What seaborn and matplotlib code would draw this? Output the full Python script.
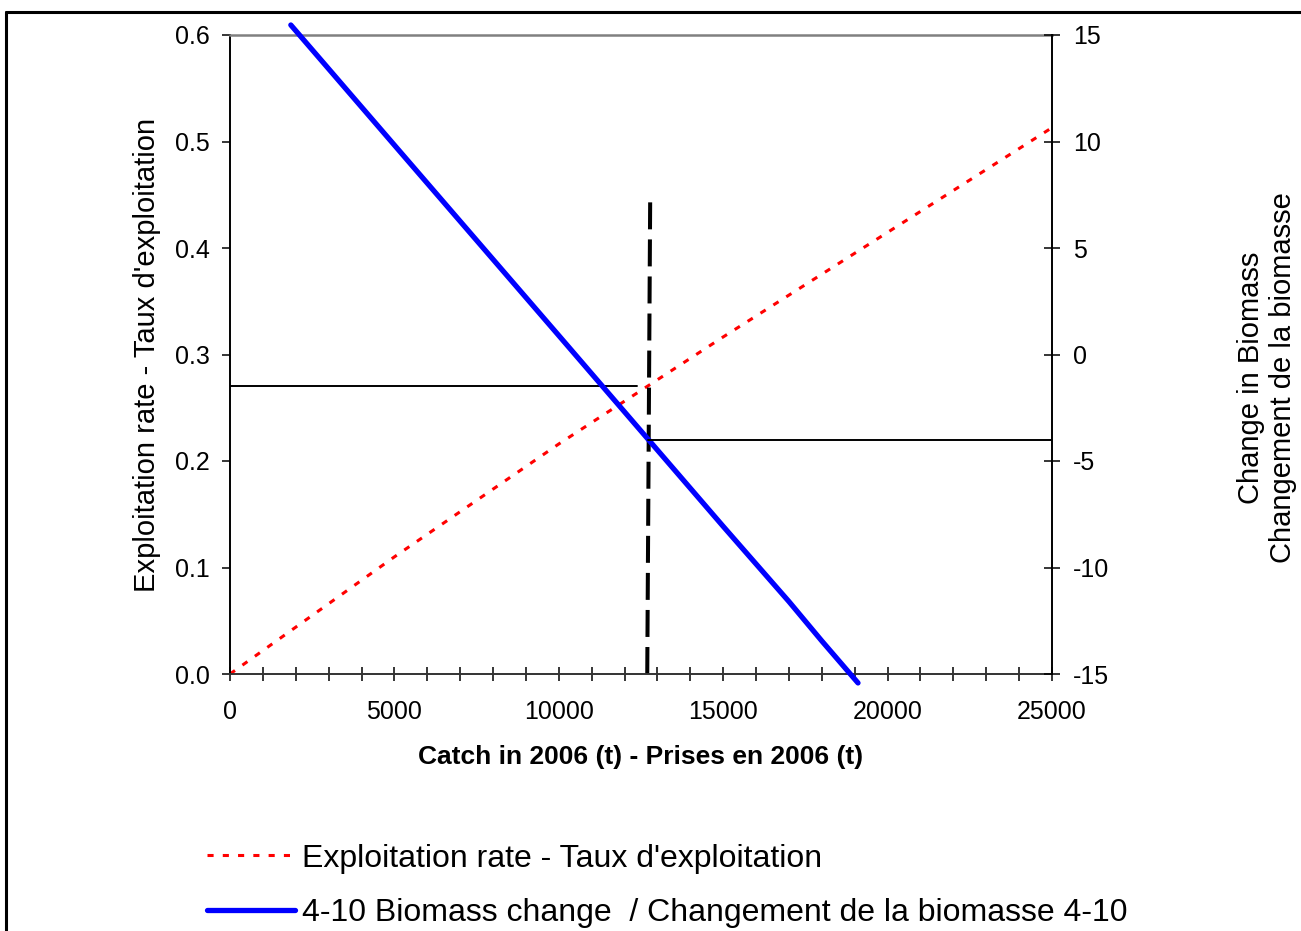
import matplotlib
matplotlib.use("Agg")
import matplotlib.pyplot as plt
from matplotlib.lines import Line2D
from matplotlib.ticker import MultipleLocator, FormatStrFormatter
import seaborn as sns

# ---- data ----
catch_rate = [0, 5000, 10000, 15000, 20000, 25000]
exploitation_rate = [0.0, 0.110, 0.216, 0.3165, 0.4147, 0.513]

catch_biomass = [1850, 5000, 10000, 12700, 15000, 17000, 18000, 19100]
biomass_change = [15.47, 9.83, 0.89, -3.95, -8.07, -11.6, -13.45, -15.42]

ref_catch = [12690, 12780]
ref_rate = [0.0, 0.45]

rate_line_catch = [0, 12380]
rate_line_value = [0.27, 0.27]

change_line_catch = [12720, 25000]
change_line_value = [-4, -4]

x_ticks = [0, 5000, 10000, 15000, 20000, 25000]
left_ticks = [0.0, 0.1, 0.2, 0.3, 0.4, 0.5, 0.6]
right_ticks = [-15, -10, -5, 0, 5, 10, 15]

rate_label = "Exploitation rate - Taux d'exploitation"
change_label = "4-10 Biomass change  / Changement de la biomasse 4-10"
xlabel = "Catch in 2006 (t) - Prises en 2006 (t)"
ylabel_left = "Exploitation rate - Taux d'exploitation"
ylabel_right = "Change in Biomass\nChangement de la biomasse"

# ---- style ----
sns.set_theme(style="white")
plt.rcParams['font.family'] = ['Liberation Sans', 'DejaVu Sans']
plt.rcParams['axes.unicode_minus'] = False
for key in ['text.color', 'axes.labelcolor', 'xtick.color', 'ytick.color']:
    plt.rcParams[key] = 'black'

W, H = 1301, 931
fig = plt.figure(figsize=(W / 100, H / 100), dpi=100)
fig.patch.set_facecolor('white')
ax = fig.add_axes([230 / W, 1 - 674 / H, (1052 - 230) / W, (674 - 35) / H])
ax2 = ax.twinx()

# red dotted exploitation-rate line
sns.lineplot(x=catch_rate, y=exploitation_rate, ax=ax, color='#ff0000',
             linewidth=2.2, linestyle=(0, (2, 3)), label=rate_label, legend=False)
# black reference lines
ax.plot(rate_line_catch, rate_line_value, color='black', linewidth=1.4)
ax.plot(ref_catch, ref_rate, color='black', linewidth=2.9, linestyle=(0, (6.7, 2.5)))

# blue biomass change line (right axis)
sns.lineplot(x=catch_biomass, y=biomass_change, ax=ax2, color='#0000ff',
             linewidth=3.8, label=change_label, legend=False)
ax2.lines[-1].set_clip_on(False)
ax2.plot(change_line_catch, change_line_value, color='black', linewidth=1.4)

# axes limits / ticks
ax.set_xlim(0, 25000)
ax.set_ylim(0, 0.6)
ax2.set_ylim(-15, 15)
ax.set_xticks(x_ticks)
ax.xaxis.set_minor_locator(MultipleLocator(1000))
ax.set_yticks(left_ticks)
ax.yaxis.set_major_formatter(FormatStrFormatter('%.1f'))
ax2.set_yticks(right_ticks)

ax.tick_params(axis='x', which='both', direction='inout', length=10, width=1.1,
               color='black', labelcolor='black', labelsize=18, pad=14, bottom=True)
ax.tick_params(axis='y', direction='out', length=5.8, width=1.1, color='black',
               labelcolor='black', labelsize=18, pad=9, left=True)
ax2.tick_params(axis='y', direction='inout', length=12, width=1.1, color='black',
                labelcolor='black', labelsize=18, pad=9, right=True)

for s in ['left', 'bottom']:
    ax.spines[s].set_color('black')
    ax.spines[s].set_linewidth(1.4)
ax.spines['bottom'].set_color('#333333')
ax.spines['top'].set_color('#808080')
ax.spines['top'].set_linewidth(1.8)
ax.spines['right'].set_visible(False)
for s in ['left', 'bottom', 'top']:
    ax2.spines[s].set_visible(False)
ax2.spines['right'].set_color('black')
ax2.spines['right'].set_linewidth(1.4)
ax.grid(False)
ax2.grid(False)

# labels
ax.set_xlabel(xlabel, fontsize=19, fontweight='bold', color='black')
ax.xaxis.set_label_coords(0.5, -(757 - 674) / (674 - 35), transform=ax.transAxes)
ax.xaxis.label.set_va('center')
ax.set_ylabel(ylabel_left, fontsize=21, color='black')
ax.yaxis.set_label_coords(-(230 - 147) / (1052 - 230), 0.5, transform=ax.transAxes)
ax.yaxis.label.set_va('center')
ax2.set_ylabel('')
fig.text(1267 / W, 1 - 378 / H, ylabel_right, rotation=90, ha='center', va='center',
         multialignment='center', fontsize=21, linespacing=1.15, color='black')

# legend
handles = [ax.lines[0], ax2.lines[0]]
leg = fig.legend(handles=handles, labels=[rate_label, change_label],
                 loc='center left', bbox_to_anchor=(207 / W, 1 - 886 / H),
                 frameon=False, fontsize=23, handlelength=2.75, handletextpad=0.22,
                 borderpad=0, borderaxespad=0, labelspacing=0.78)
for t in leg.get_texts():
    t.set_color('black')

# outer frame (top and left edges visible)
fig.add_artist(Line2D([6 / W, 6 / W], [0, 1 - 12 / H], transform=fig.transFigure,
                      color='black', linewidth=2.2))
fig.add_artist(Line2D([6 / W, 1], [1 - 12 / H, 1 - 12 / H], transform=fig.transFigure,
                      color='black', linewidth=2.2))

fig.savefig('out.png', dpi=100)
